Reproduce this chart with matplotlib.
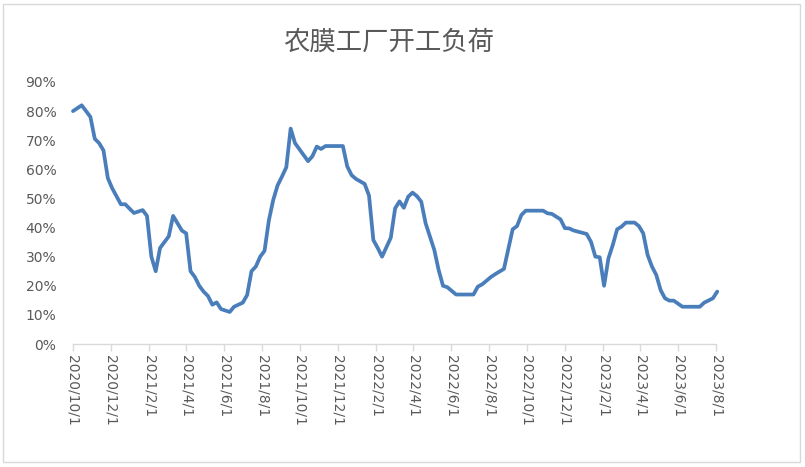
import matplotlib
matplotlib.use('Agg')
import matplotlib.pyplot as plt
import matplotlib.dates as mdates
from matplotlib.patches import Rectangle
from matplotlib.ticker import FuncFormatter
import numpy as np
import pandas as pd

plt.rcParams['font.family'] = ['DejaVu Sans', 'Noto Sans CJK SC']

title = '农膜工厂开工负荷'
start = '2020-10-01'

# weeks after 2020/10/1
weeks = [0, 2, 4, 5, 6, 7, 8, 9, 11, 12,
         14, 16, 17, 18, 19, 20, 22, 23, 25, 26,
         27, 28, 29, 30, 31, 32, 33, 34, 36, 37,
         39, 40, 41, 42, 43, 44, 45, 46, 47, 48,
         49, 50, 51, 54, 55, 56, 57, 58, 62, 63,
         64, 65, 67, 68, 69, 70, 71, 73, 74, 75,
         76, 77, 78, 79, 80, 81, 83, 84, 85, 86,
         88, 92, 93, 94, 96, 97, 99, 101, 102, 103,
         104, 108, 109, 110, 112, 113, 114, 115, 116, 118,
         119, 120, 121, 122, 123, 124, 125, 126, 127, 129,
         130, 131, 132, 133, 134, 135, 136, 137, 138, 140,
         144, 145, 147, 148]

# load in percent
load = [80, 82, 78, 70.5, 69, 66.5, 57, 53.5, 48, 48,
        45, 46, 44, 30, 25, 33, 37, 44, 39, 38,
        25, 23, 20, 18, 16.5, 13.5, 14.3, 12, 11, 12.8,
        14.2, 16.8, 25, 26.6, 30, 32, 42.5, 49.5, 54.5, 57.5,
        60.7, 74, 69, 62.8, 64.5, 67.8, 67, 68, 68, 61,
        58, 56.7, 55, 51, 35.7, 33, 30, 36.5, 46.6, 49,
        46.8, 50.6, 52, 50.8, 48.9, 41.5, 32.3, 25.4, 20, 19.5,
        17, 17, 19.7, 20.5, 23, 24, 25.8, 39.4, 40.5, 44.3,
        45.8, 45.8, 44.9, 44.7, 42.8, 39.8, 39.7, 39, 38.6, 37.8,
        35.1, 30, 29.8, 20, 29.4, 34, 39.4, 40.3, 41.7, 41.7,
        40.5, 38, 30.6, 26.6, 23.7, 18.5, 15.7, 14.9, 14.9, 12.8,
        12.8, 14.2, 15.7, 18]

tick_dates = pd.date_range('2020-10-01', '2023-08-01', freq='2MS')

dates = pd.to_datetime(start) + pd.to_timedelta(np.array(weeks) * 7, unit='D')
vals = np.array(load) / 100.0

fig = plt.figure(figsize=(8.05, 4.67), dpi=100)
ax = fig.add_axes([73 / 805, 1 - 344 / 467, (716 - 73) / 805, (344 - 82) / 467])

ax.plot(dates, vals, color='#4a7ebb', linewidth=2.7, solid_joinstyle='round',
        solid_capstyle='round', clip_on=False)

ax.set_xlim(tick_dates[0], tick_dates[-1])
ax.set_ylim(0, 0.9)
ax.set_yticks(np.arange(0, 0.91, 0.1))
ax.yaxis.set_major_formatter(FuncFormatter(lambda v, p: '%d%%' % round(v * 100)))

ax.set_xticks(tick_dates)
ax.set_xticklabels(['%d/%d/1' % (d.year, d.month) for d in tick_dates],
                   rotation=270, va='top', ha='center')

for s in ['top', 'right', 'left']:
    ax.spines[s].set_visible(False)
ax.spines['bottom'].set_color('#d9d9d9')
ax.spines['bottom'].set_linewidth(1.0)

ax.tick_params(axis='y', length=0, pad=12, labelsize=10, labelcolor='#595959')
ax.tick_params(axis='x', length=5, width=1.0, color='#d9d9d9', pad=3,
               labelsize=10, labelcolor='#595959')

fig.text(389 / 805, 1 - 42 / 467, title, ha='center', va='center',
         fontsize=19, color='#595959', family=['Noto Sans CJK SC', 'DejaVu Sans'])

fig.patches.append(Rectangle((3 / 805, 5 / 467), 797 / 805, 458 / 467,
                             transform=fig.transFigure, fill=False,
                             edgecolor='#d9d9d9', linewidth=1.0))

fig.savefig('out.png', dpi=100)
